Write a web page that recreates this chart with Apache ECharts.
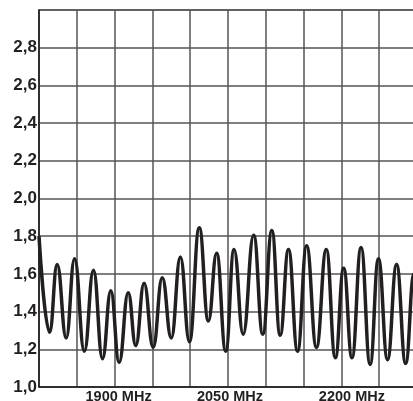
<!DOCTYPE html>
<html><head><meta charset="utf-8">
<script src="https://cdn.jsdelivr.net/npm/echarts@6/dist/echarts.min.js"></script>
<style>html,body{margin:0;padding:0;background:#fff}#c{width:413px;height:401px}</style>
</head><body><div id="c"></div>
<script>
// Frequency (MHz) of each turning point of the VSWR curve
const freqs = [1800,1814,1824,1836,1847,1860,1872,1884,1895,1906,1918,1928,1939,1951,1963,1975,1987,1999,2012,2024,2035,2047,2058,2070,2084,2096,2108,2119,2130,2142,2154,2167,2180,2192,2203,2214,2226,2238,2249,2261,2273,2285,2296,2300];
// VSWR values at those points
const vswr = [1.80,1.29,1.65,1.26,1.68,1.19,1.62,1.15,1.51,1.13,1.50,1.22,1.55,1.21,1.58,1.26,1.69,1.24,1.845,1.35,1.71,1.19,1.73,1.28,1.805,1.28,1.83,1.275,1.73,1.19,1.75,1.21,1.73,1.155,1.63,1.155,1.74,1.12,1.68,1.145,1.65,1.125,1.60,1.59];
const xLabels = {1900:'1900 MHz', 2050:'2050 MHz', 2200:'2200 MHz'};
const yTicks = ['1,0','1,2','1,4','1,6','1,8','2,0','2,2','2,4','2,6','2,8'];

const chart = echarts.init(document.getElementById('c'), null, {renderer:'canvas'});
const ink = '#231f20';
chart.setOption({
  animation:false,
  backgroundColor:'#fff',
  grid:{left:39, top:10, width:378, height:377, show:true, borderColor:'#666', borderWidth:1.5,
        containLabel:false, outerBoundsMode:'none'},
  xAxis:{
    type:'value', min:1800, max:2300, interval:50,
    axisLine:{show:true, lineStyle:{color:ink, width:1.5}},
    axisTick:{show:false},
    splitLine:{show:true, lineStyle:{color:'#555', width:1.5}},
    axisLabel:{
      margin:2, hideOverlap:false,
      formatter:v => {
        if (v===1900) return '{a|'+xLabels[v]+'}';
        if (v===2050) return '{b|'+xLabels[v]+'}';
        if (v===2200) return '{c|'+xLabels[v]+'}';
        return '';
      },
      rich:{
        a:{fontFamily:'Liberation Sans', fontWeight:'bold', fontSize:14.5, color:ink, padding:[0,0,0,8]},
        b:{fontFamily:'Liberation Sans', fontWeight:'bold', fontSize:14.5, color:ink, padding:[0,0,0,4]},
        c:{fontFamily:'Liberation Sans', fontWeight:'bold', fontSize:14.5, color:ink, padding:[0,0,0,21]}
      }
    }
  },
  yAxis:{
    type:'value', min:1.0, max:3.0, interval:0.2,
    axisLine:{show:true, lineStyle:{color:ink, width:1.5}},
    axisTick:{show:false},
    splitLine:{show:true, lineStyle:{color:'#555', width:1.5}},
    axisLabel:{
      margin:2, hideOverlap:false,
      fontFamily:'Liberation Sans', fontWeight:'bold', fontSize:17, color:ink,
      verticalAlign:'middle', padding:[0,0,4,0],
      formatter:v => { const i = Math.round((v-1)/0.2); return yTicks[i] || ''; }
    }
  },
  series:[{
    type:'line',
    data:freqs.map((f,i)=>[f,vswr[i]]),
    smooth:0.45, smoothMonotone:'x',
    showSymbol:false,
    lineStyle:{color:ink, width:3.5},
    clip:true
  }]
});
</script></body></html>
